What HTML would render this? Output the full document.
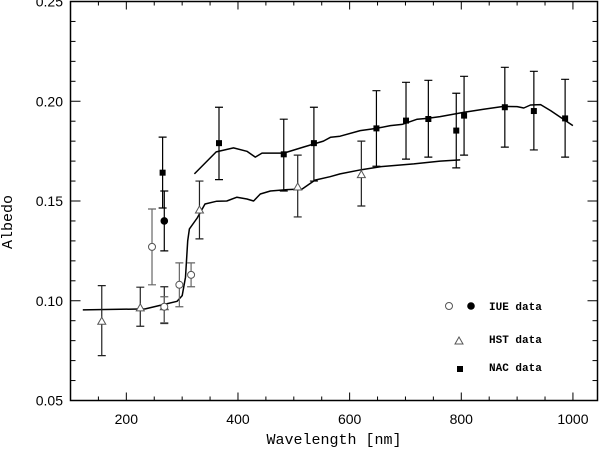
<!DOCTYPE html>
<html><head><meta charset="utf-8"><style>
html,body{margin:0;padding:0;background:#fff;}
svg{display:block;}
text{font-family:"Liberation Sans",sans-serif;fill:#000;}
.mono{font-family:"Liberation Mono",monospace;}
</style></head><body>
<svg id="chart" width="602" height="452" viewBox="0 0 602 452">
<g id="axes"></g>
<g id="curves"></g>
<g id="points"></g>
<text x="12" y="222" transform="rotate(-90 12 222)" text-anchor="middle" font-size="15" class="mono">Albedo</text>
<text x="334" y="444" text-anchor="middle" font-size="15" class="mono">Wavelength [nm]</text>
<g>
 <g>
  <circle cx="449" cy="306" r="3.5" fill="none" stroke="#555" stroke-width="1"/>
  <circle cx="471" cy="306" r="3.8" fill="#000"/>
  <text x="489" y="310" font-size="11" font-weight="bold" class="mono">IUE data</text>
 </g>
 <g>
  <path d="M459,337 L463,344 L455,344 Z" fill="none" stroke="#555" stroke-width="1"/>
  <text x="489" y="343" font-size="11" font-weight="bold" class="mono">HST data</text>
 </g>
 <g>
  <rect x="457" y="366" width="6" height="6" fill="#000"/>
  <text x="489" y="371" font-size="11" font-weight="bold" class="mono">NAC data</text>
 </g>
</g>
</svg>
<script>
// Data
const upperWl = [322,361,392,416,431,443,482,517,553,566,583,619,648,673,694,721,739,762,804,840,876,900,912,924,942,960,983,1000];
const upperAlb = [0.1636,0.1746,0.1766,0.1749,0.172,0.174,0.174,0.177,0.180,0.182,0.1825,0.1853,0.1864,0.1878,0.1884,0.191,0.1914,0.1923,0.1944,0.196,0.1974,0.1973,0.1966,0.1981,0.1983,0.1953,0.191,0.1878];
const lowerWl = [122,234,267,291,300,306,310,313,327,341,362,380,398,416,428,440,458,488,515,538,565,583,621,655,715,762,798];
const lowerAlb = [0.0954,0.0959,0.0981,0.0997,0.1026,0.1118,0.130,0.136,0.1415,0.1485,0.1499,0.150,0.1519,0.151,0.150,0.1535,0.155,0.1557,0.156,0.1605,0.1622,0.1636,0.1657,0.1672,0.1686,0.170,0.1706];
const iueOpenWl = [246,268,295,316];
const iueOpenAlb = [0.127,0.097,0.108,0.113];
const iueOpenLo = [0.108,0.089,0.097,0.107];
const iueOpenHi = [0.146,0.102,0.119,0.119];
const iueFilledWl = [268];
const iueFilledAlb = [0.140];
const iueFilledLo = [0.125];
const iueFilledHi = [0.155];
const hstWl = [156,225,268,331,507,621];
const hstAlb = [0.0897,0.0964,0.097,0.1455,0.157,0.1632];
const hstLo = [0.0725,0.0872,0.0886,0.131,0.142,0.1475];
const hstHi = [0.1076,0.1068,0.107,0.160,0.173,0.180];
const nacWl = [265,366,482,536,648,701,741,791,805,878,930,986];
const nacAlb = [0.1642,0.179,0.1734,0.179,0.1864,0.1903,0.1911,0.1853,0.1928,0.197,0.1951,0.1914];
const nacLo = [0.1465,0.1607,0.155,0.160,0.1674,0.171,0.172,0.1666,0.173,0.177,0.1756,0.172];
const nacHi = [0.182,0.197,0.191,0.197,0.2053,0.2095,0.2105,0.204,0.2125,0.217,0.215,0.211];
const xTicks = [200,400,600,800,1000];
const yTicks = [0.05,0.10,0.15,0.20,0.25];

const L=70.5,R=597.5,T=1.5,B=400.5;
const X0=100,X1=1044,Y0=0.05,Y1=0.25;
const sx = w => L + (w-X0)/(X1-X0)*(R-L);
const sy = v => B - (v-Y0)/(Y1-Y0)*(B-T);
const NS='http://www.w3.org/2000/svg';
function mk(tag, attrs, parent){const e=document.createElementNS(NS,tag);for(const k in attrs)e.setAttribute(k,attrs[k]);parent.appendChild(e);return e;}

const axes=document.getElementById('axes');
const frame=mk('rect',{x:L,y:T,width:R-L,height:B-T,fill:'none',stroke:'#000','stroke-width':1.5},axes);


for(let w=150;w<=1040;w+=50){
  const major = w%200===0;
  const len = major?8:4;
  const t1=mk('line',{x1:sx(w),x2:sx(w),y1:B,y2:B-len,stroke:'#000','stroke-width':1},axes);
  
  
  const t2=mk('line',{x1:sx(w),x2:sx(w),y1:T,y2:T+len,stroke:'#000','stroke-width':1},axes);
  
  
}
xTicks.forEach(w=>{
  const t=mk('text',{x:sx(w),y:424,'text-anchor':'middle','font-size':14},axes);
  t.textContent=String(w);
  
  
});
for(let i=0;i<=20;i++){
  const v=0.05+i*0.01;
  const major=i%5===0;
  const len=major?10:5;
  const a=mk('line',{x1:L,x2:L+len,y1:sy(v),y2:sy(v),stroke:'#000','stroke-width':1},axes);
  
  
  const b=mk('line',{x1:R,x2:R-len,y1:sy(v),y2:sy(v),stroke:'#000','stroke-width':1},axes);
  
  
}
yTicks.forEach(v=>{
  const t=mk('text',{x:63,y:sy(v)+5,'text-anchor':'end','font-size':14},axes);
  t.textContent=v.toFixed(2);
  
  
});

const curves=document.getElementById('curves');
function line(ws,vs,name){
  const d=ws.map((w,i)=>(i?'L':'M')+sx(w).toFixed(1)+','+sy(vs[i]).toFixed(1)).join(' ');
  const p=mk('path',{d:d,fill:'none',stroke:'#000','stroke-width':1.5,'stroke-linejoin':'round'},curves);
  
  
}
line(upperWl,upperAlb,'upper-model-curve');
line(lowerWl,lowerAlb,'lower-model-curve');

const pts=document.getElementById('points');
function err(w,lo,hi,color){
  const x=sx(w);
  const g=mk('path',{d:`M${x},${sy(lo)} L${x},${sy(hi)} M${x-4},${sy(lo)} L${x+4},${sy(lo)} M${x-4},${sy(hi)} L${x+4},${sy(hi)}`,stroke:color,'stroke-width':1.2,fill:'none'},pts);
  
  
}
hstWl.forEach((w,i)=>{
  err(w,hstLo[i],hstHi[i],'#222');
  const x=sx(w),y=sy(hstAlb[i]);
  const m=mk('path',{d:`M${x},${y-4} L${x+4},${y+3} L${x-4},${y+3} Z`,fill:'#fff',stroke:'#555','stroke-width':1},pts);
  
  
});
iueOpenWl.forEach((w,i)=>{
  err(w,iueOpenLo[i],iueOpenHi[i],'#666');
  const m=mk('circle',{cx:sx(w),cy:sy(iueOpenAlb[i]),r:3.5,fill:'#fff',stroke:'#555','stroke-width':1},pts);
  
  
});
iueFilledWl.forEach((w,i)=>{
  err(w,iueFilledLo[i],iueFilledHi[i],'#000');
  const m=mk('circle',{cx:sx(w),cy:sy(iueFilledAlb[i]),r:3.8,fill:'#000'},pts);
  
  
});
nacWl.forEach((w,i)=>{
  err(w,nacLo[i],nacHi[i],'#000');
  const m=mk('rect',{x:sx(w)-3,y:sy(nacAlb[i])-3,width:6,height:6,fill:'#000'},pts);
  
  
});
</script>
</body></html>
